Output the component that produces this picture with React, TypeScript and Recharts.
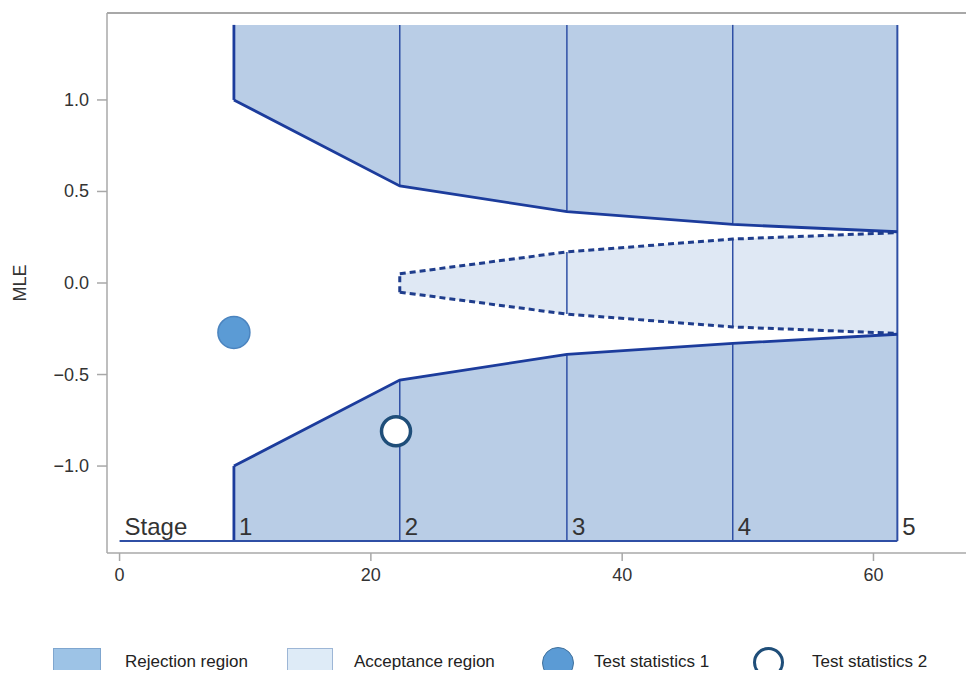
import {
  Area,
  ComposedChart,
  Label,
  Line,
  ReferenceLine,
  Scatter,
  XAxis,
  YAxis,
} from 'recharts'

// stage positions (x) and the boundaries
const stageX = [9.1, 22.3, 35.6, 48.8, 61.9]
const stageNames = ['1', '2', '3', '4', '5']
const upperBound = [1.0, 0.53, 0.39, 0.32, 0.28]
const lowerBound = [-1.0, -0.53, -0.39, -0.33, -0.28]
const acceptUpper = [null, 0.05, 0.17, 0.24, 0.275]
const acceptLower = [null, -0.05, -0.17, -0.24, -0.275]
const regionTop = 1.41
const regionBottom = -1.41

const stat1 = [{ x: 9.1, y: -0.27 }]
const stat2 = [{ x: 22.0, y: -0.81 }]

const xTicks = [0, 20, 40, 60]
const yTicks = [-1.0, -0.5, 0.0, 0.5, 1.0]
const xDomain = [-1, 68]
const yDomain = [-1.475, 1.475]

const REJECT = '#b9cde6'
const ACCEPT = '#dfe8f4'
const EDGE = '#1c3c9c'
const THIN = '#2f4fa5'
const AXIS = '#a8a8a8'
const FONT = '"Liberation Sans", Arial, sans-serif'
const LEGEND_FONT = '"Liberation Sans Narrow", "Liberation Sans", Arial, sans-serif'

const rows = stageX.map((x, i) => ({
  x,
  upperFill: [upperBound[i], regionTop],
  lowerFill: [regionBottom, lowerBound[i]],
  accFill: acceptUpper[i] == null ? null : [acceptLower[i], acceptUpper[i]],
  upper: upperBound[i],
  lower: lowerBound[i],
  accUp: acceptUpper[i],
  accLow: acceptLower[i],
}))

const stageLabels = [
  { x: 0, y: regionBottom, text: 'Stage' },
  ...stageX.map((x, i) => ({ x, y: regionBottom, text: stageNames[i] })),
]

const fmtY = (v: number) => (v < 0 ? '\u2212' + Math.abs(v).toFixed(1) : v.toFixed(1))

const StageText = (p: any) => (
  <text
    x={p.cx + 5}
    y={p.cy - 6}
    fontSize={24}
    fontFamily={FONT}
    fill="#333"
  >
    {p.payload.text}
  </text>
)

const Dot1 = (p: any) => (
  <circle cx={p.cx} cy={p.cy} r={16} fill="#5b9bd5" stroke="#4b84bf" strokeWidth={1.5} />
)

const Dot2 = (p: any) => (
  <circle cx={p.cx} cy={p.cy} r={14.5} fill="#fff" stroke="#1f4e79" strokeWidth={3.5} />
)

const XTick = (p: any) => (
  <text x={p.x} y={p.y + 14} textAnchor="middle" fontSize={18} fontFamily={FONT} fill="#333">
    {p.payload.value}
  </text>
)

const YTick = (p: any) => (
  <text x={p.x} y={p.y + 6} textAnchor="end" fontSize={18} fontFamily={FONT} fill="#333">
    {fmtY(p.payload.value)}
  </text>
)

const stageSegments = () => {
  const out: any[] = []
  stageX.forEach((x, i) => {
    const last = i === stageX.length - 1
    const first = i === 0
    const color = first ? EDGE : THIN
    const w = first ? 2.8 : last ? 2 : 1.5
    if (last) {
      out.push(
        <ReferenceLine
          key={'full' + i}
          segment={[{ x, y: regionBottom }, { x, y: regionTop }]}
          stroke={color}
          strokeWidth={w}
        />
      )
      return
    }
    out.push(
      <ReferenceLine
        key={'up' + i}
        segment={[{ x, y: upperBound[i] }, { x, y: regionTop }]}
        stroke={color}
        strokeWidth={w}
      />,
      <ReferenceLine
        key={'lo' + i}
        segment={[{ x, y: regionBottom }, { x, y: lowerBound[i] }]}
        stroke={color}
        strokeWidth={w}
      />
    )
    const au = acceptUpper[i]
    const al = acceptLower[i]
    if (au != null && al != null) {
      out.push(
        <ReferenceLine
          key={'acc' + i}
          segment={[{ x, y: al }, { x, y: au }]}
          stroke={i === 1 ? '#1f3d8c' : THIN}
          strokeWidth={i === 1 ? 3 : 1.5}
          strokeDasharray={i === 1 ? '6 4' : undefined}
        />
      )
    }
  })
  return out
}

const legendItem = (left: number, symbol: any, text: string, textLeft: number) => (
  <>
    <div style={{ position: 'absolute', left, top: 0 }}>{symbol}</div>
    <div
      style={{
        position: 'absolute',
        left: textLeft,
        top: 4,
        fontFamily: LEGEND_FONT,
        fontSize: 17,
        lineHeight: '20px',
        color: '#222',
        whiteSpace: 'nowrap',
      }}
    >
      {text}
    </div>
  </>
)

export default function App() {
  return (
    <div style={{ position: 'relative', margin: -8, width: 974, height: 678, overflow: 'hidden' }}>
      <ComposedChart
        width={974}
        height={678}
        data={rows}
        margin={{ top: 13, right: 0, bottom: 85, left: 0 }}
      >
        <XAxis
          type="number"
          dataKey="x"
          domain={xDomain}
          ticks={xTicks}
          allowDataOverflow
          height={40}
          stroke={AXIS}
          strokeWidth={1.5}
          tickSize={8}
          tickMargin={6}
          tick={XTick}
        />
        <YAxis
          type="number"
          domain={yDomain}
          ticks={yTicks}
          allowDataOverflow
          width={107}
          stroke={AXIS}
          strokeWidth={1.5}
          tickSize={10}
          tickMargin={8}
          tick={YTick}
        >
          <Label
            content={(p: any) => (
              <text
                x={20}
                y={p.viewBox.y + p.viewBox.height / 2}
                transform={`rotate(-90, 20, ${p.viewBox.y + p.viewBox.height / 2})`}
                textAnchor="middle"
                dominantBaseline="central"
                fontSize={18}
                fontFamily={FONT}
                fill="#333"
              >
                MLE
              </text>
            )}
          />
        </YAxis>
        <ReferenceLine y={yDomain[1]} stroke={AXIS} strokeWidth={2} />

        <Area
          dataKey="upperFill"
          type="linear"
          fill={REJECT}
          fillOpacity={1}
          stroke="none"
          isAnimationActive={false}
        />
        <Area
          dataKey="lowerFill"
          type="linear"
          fill={REJECT}
          fillOpacity={1}
          stroke="none"
          isAnimationActive={false}
        />
        <Area
          dataKey="accFill"
          type="linear"
          fill={ACCEPT}
          fillOpacity={1}
          stroke="none"
          isAnimationActive={false}
        />

        {stageSegments()}
        <ReferenceLine
          segment={[{ x: 0, y: regionBottom }, { x: stageX[stageX.length - 1], y: regionBottom }]}
          stroke={THIN}
          strokeWidth={2}
        />

        <Line dataKey="upper" type="linear" stroke={EDGE} strokeWidth={2.8} dot={false} isAnimationActive={false} />
        <Line dataKey="lower" type="linear" stroke={EDGE} strokeWidth={2.8} dot={false} isAnimationActive={false} />
        <Line
          dataKey="accUp"
          type="linear"
          stroke="#1f3d8c"
          strokeWidth={3}
          strokeDasharray="6 4"
          dot={false}
          isAnimationActive={false}
        />
        <Line
          dataKey="accLow"
          type="linear"
          stroke="#1f3d8c"
          strokeWidth={3}
          strokeDasharray="6 4"
          dot={false}
          isAnimationActive={false}
        />

        <Scatter data={stageLabels} dataKey="y" shape={StageText} isAnimationActive={false} />
        <Scatter data={stat1} dataKey="y" shape={Dot1} isAnimationActive={false} />
        <Scatter data={stat2} dataKey="y" shape={Dot2} isAnimationActive={false} />
      </ComposedChart>

      <div style={{ position: 'absolute', left: 0, top: 648, width: 974, height: 30 }}>
        {legendItem(
          53,
          <div style={{ width: 48, height: 34, background: '#9dc3e6', border: '1px solid #7fa6cf', boxSizing: 'border-box' }} />,
          'Rejection region',
          125
        )}
        {legendItem(
          287,
          <div style={{ width: 46, height: 34, background: '#deebf7', border: '1px solid #9db6d6', boxSizing: 'border-box' }} />,
          'Acceptance region',
          354
        )}
        {legendItem(
          542,
          <div style={{ width: 32, height: 32, marginTop: -1, borderRadius: '50%', background: '#5b9bd5', border: '1px solid #41719c', boxSizing: 'border-box' }} />,
          'Test statistics 1',
          594
        )}
        {legendItem(
          753,
          <div style={{ width: 31, height: 31, marginTop: -1, borderRadius: '50%', background: '#fff', border: '3px solid #1f4e79', boxSizing: 'border-box' }} />,
          'Test statistics 2',
          812
        )}
      </div>
    </div>
  )
}
